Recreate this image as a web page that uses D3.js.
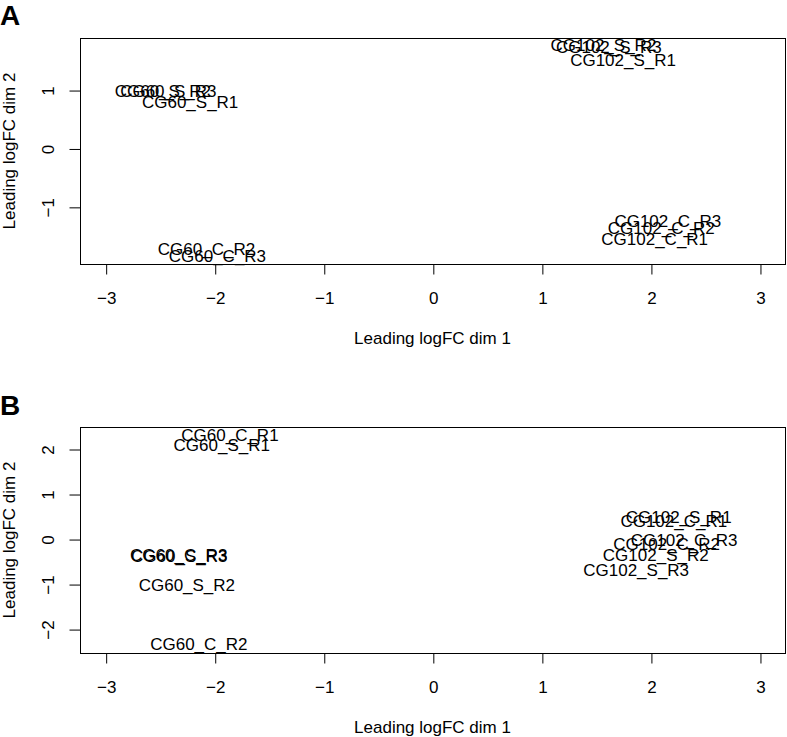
<!DOCTYPE html>
<html lang="en">
<head>
  <meta charset="UTF-8">
  <title>MDS plots</title>
  <script src="https://d3js.org/d3.v7.min.js"></script>
  <style>
    body { margin: 0; background: #fff; }
    svg text { font-family: "Liberation Sans", Arial, Helvetica, sans-serif; fill: #000; }
    .frame { fill: none; stroke: #000; stroke-width: 1; }
    .tick line, .domain { stroke: #000; }
  </style>
</head>
<body>
<div id="chart"></div>
<script>
  // panel A
  const labelsA = ["CG60_S_R1", "CG60_S_R2", "CG60_S_R3", "CG102_S_R1", "CG102_S_R2", "CG102_S_R3",
                   "CG60_C_R2", "CG60_C_R3", "CG102_C_R1", "CG102_C_R2", "CG102_C_R3"];
  const dim1A = [-2.23, -2.48, -2.43, 1.74, 1.56, 1.61, -2.08, -1.98, 2.03, 2.09, 2.15];
  const dim2A = [0.81, 0.99, 1.0, 1.53, 1.78, 1.75, -1.715, -1.835, -1.55, -1.35, -1.235];

  // panel B
  const labelsB = ["CG60_C_R1", "CG60_S_R1", "CG60_C_R3", "CG60_S_R3", "CG60_S_R2", "CG60_C_R2",
                   "CG102_S_R1", "CG102_C_R1", "CG102_C_R2", "CG102_C_R3", "CG102_S_R2", "CG102_S_R3"];
  const dim1B = [-1.865, -1.94, -2.335, -2.33, -2.26, -2.15, 2.25, 2.205, 2.14, 2.30, 2.04, 1.86];
  const dim2B = [2.32, 2.11, -0.35, -0.36, -1.01, -2.32, 0.51, 0.42, -0.11, -0.02, -0.355, -0.68];

  const xTicks = [-3, -2, -1, 0, 1, 2, 3];
  const yTicksA = [-1, 0, 1];
  const yTicksB = [-2, -1, 0, 1, 2];

  const W = 787, H = 737;
  const fs = 17;

  const svg = d3.select("#chart").append("svg")
    .attr("width", W).attr("height", H);
  svg.append("rect").attr("width", W).attr("height", H).attr("fill", "#fff");

  function drawPanel(o) {
    const x = d3.scaleLinear().domain([-3.24, 3.225]).range([80, 785]);
    const y = d3.scaleLinear().domain(o.yDomain).range([o.bottom, o.top]);
    const g = svg.append("g");

    // panel letter
    g.append("text")
      .attr("x", 0).attr("y", o.letterY)
      .style("font-size", "28px").style("font-weight", "bold")
      .text(o.letter);

    // box
    g.append("rect").attr("class", "frame")
      .attr("x", 80.5).attr("y", o.top + 0.5)
      .attr("width", 705).attr("height", o.bottom - o.top);

    // x axis
    const xa = g.append("g")
      .attr("transform", `translate(0,${o.bottom + 0.5})`)
      .call(d3.axisBottom(x).tickValues(xTicks).tickSize(10).tickPadding(17).tickFormat(d3.format("d")));
    xa.select(".domain").attr("d", `M${x(-3)},0H${x(3)}`);
    xa.selectAll("text").style("font-size", fs + "px");

    // y axis, labels rotated like base R
    const ya = g.append("g")
      .attr("transform", "translate(80.5,0)")
      .call(d3.axisLeft(y).tickValues(o.yTicks).tickSize(11).tickFormat(d3.format("d")));
    ya.select(".domain").attr("d", `M0,${y(o.yTicks[0])}V${y(o.yTicks[o.yTicks.length - 1])}`);
    ya.selectAll(".tick text")
      .attr("x", null).attr("dy", null)
      .attr("text-anchor", "middle")
      .attr("transform", "translate(-27,0) rotate(-90)")
      .style("font-size", fs + "px");

    // axis titles
    g.append("text")
      .attr("x", 432.5).attr("y", o.bottom + 80)
      .attr("text-anchor", "middle")
      .style("font-size", fs + "px")
      .text("Leading logFC dim 1");
    g.append("text")
      .attr("transform", `translate(15,${(o.top + o.bottom) / 2}) rotate(-90)`)
      .attr("text-anchor", "middle")
      .style("font-size", fs + "px")
      .text("Leading logFC dim 2");

    // sample labels
    g.selectAll("text.lab")
      .data(o.labels)
      .join("text")
      .attr("class", "lab")
      .attr("x", (d, i) => x(o.d1[i]))
      .attr("y", (d, i) => y(o.d2[i]))
      .attr("dy", "0.35em")
      .attr("text-anchor", "middle")
      .style("font-size", fs + "px")
      .text(d => d);
  }

  drawPanel({
    letter: "A", letterY: 25, top: 38, bottom: 264,
    yDomain: [-1.97, 1.90], yTicks: yTicksA,
    labels: labelsA, d1: dim1A, d2: dim2A
  });
  drawPanel({
    letter: "B", letterY: 415, top: 427, bottom: 653,
    yDomain: [-2.52, 2.50], yTicks: yTicksB,
    labels: labelsB, d1: dim1B, d2: dim2B
  });
</script>
</body>
</html>
